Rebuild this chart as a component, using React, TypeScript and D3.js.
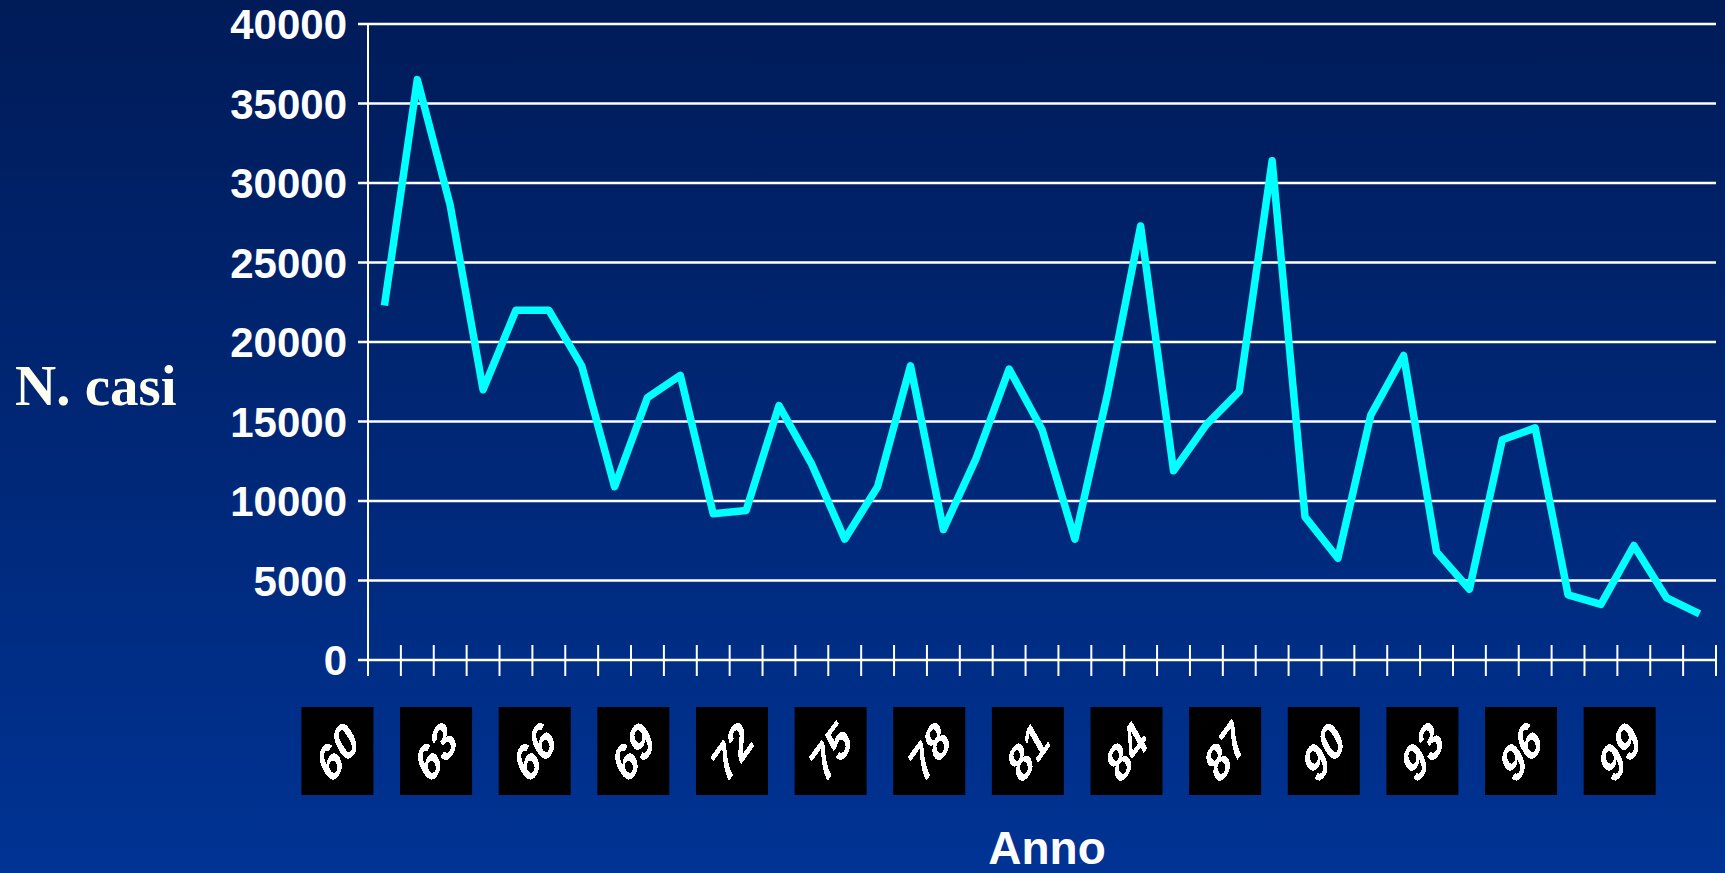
import React from 'react';
import * as d3 from 'd3';

// --- data ---
const years = d3.range(1960, 2001);
const cases = [
    22300, 36500, 28600, 17000, 22000, 22000, 18500, 10900, 16500, 17900,
    9200, 9400, 16000, 12300, 7600, 10900, 18500, 8200, 12700, 18300,
    14500, 7600, 16800, 27300, 11900, 14800, 16900, 31400, 9000, 6400,
    15400, 19150, 6800, 4450, 13850, 14600, 4100, 3500, 7200, 3900, 2900
];
const yTicks = [0, 5000, 10000, 15000, 20000, 25000, 30000, 35000, 40000];
const labelYears = [1960, 1963, 1966, 1969, 1972, 1975, 1978, 1981, 1984, 1987, 1990, 1993, 1996, 1999];

const W = 1725;
const H = 873;

const App: React.FC = () => {
    const x = d3.scaleBand<number>().domain(years).range([368, 1716]).paddingInner(0).paddingOuter(0);
    const y = d3.scaleLinear().domain([0, 40000]).range([660, 24]);
    const bw = x.bandwidth();

    const data = years.map((yr, i) => ({ year: yr, value: cases[i] }));
    const line = d3.line<{ year: number, value: number }>()
        .x(d => (x(d.year) as number) + bw / 2)
        .y(d => y(d.value));

    // tick positions at band boundaries
    const xTickPos = years.map(yr => x(yr) as number).concat([x.range()[1]]);

    const sans = '"Liberation Sans", Arial, sans-serif';

    return (
        <svg width={W} height={H} style={{ position: 'absolute', left: 0, top: 0, display: 'block' }}>
            <defs>
                <linearGradient id="bg" x1="0" y1="0" x2="0" y2="1">
                    <stop offset="0%" stopColor="#001b58" />
                    <stop offset="100%" stopColor="#003394" />
                </linearGradient>
                <filter id="pix" x="-20%" y="-20%" width="140%" height="140%">
                    <feComponentTransfer>
                        <feFuncA type="discrete" tableValues="0 1" />
                    </feComponentTransfer>
                </filter>
            </defs>
            <rect x={0} y={0} width={W} height={H} fill="url(#bg)" />

            {/* gridlines */}
            {yTicks.map(t => (
                <line key={t} x1={358} x2={1716} y1={y(t)} y2={y(t)} stroke="#ffffff" strokeWidth={2.5} />
            ))}
            {/* y axis */}
            <line x1={368} x2={368} y1={y(40000)} y2={676} stroke="#ffffff" strokeWidth={2} />
            {/* x ticks */}
            {xTickPos.map((px, i) => (
                <line key={i} x1={px} x2={px} y1={645} y2={676} stroke="#ffffff" strokeWidth={2} />
            ))}

            {/* y labels */}
            {yTicks.map(t => (
                <text key={t} x={347} y={y(t)} dy="0.36em" textAnchor="end"
                    fontFamily={sans} fontWeight="bold" fontSize={42} fill="#ffffff">{t}</text>
            ))}

            {/* series */}
            <path d={line(data) || ''} fill="none" stroke="#00ffff" strokeWidth={7.5} strokeLinejoin="round" />

            {/* year label boxes */}
            {labelYears.map(yr => {
                const cx = (x(yr) as number) + bw / 2 - 47;
                const cy = 751;
                return (
                    <g key={yr}>
                        <rect x={cx - 36} y={707} width={72} height={88} fill="#000000" />
                        <g filter="url(#pix)">
                            <text transform={`matrix(0.588,-0.809,0.5,0.866,${cx},${cy})`}
                                textAnchor="middle" dy="0.36em"
                                fontFamily={sans} fontWeight="bold" fontSize={46} fill="#ffffff">{String(yr).slice(2)}</text>
                        </g>
                    </g>
                );
            })}

            {/* axis titles */}
            <text x={15} y={405} fontFamily='"Liberation Serif", "Times New Roman", serif' fontWeight="bold"
                fontSize={57} fill="#fffff2">N. casi</text>
            <text x={1047} y={864} textAnchor="middle" fontFamily={sans} fontWeight="bold"
                fontSize={46} fill="#ffffff">Anno</text>
        </svg>
    );
};

export default App;
